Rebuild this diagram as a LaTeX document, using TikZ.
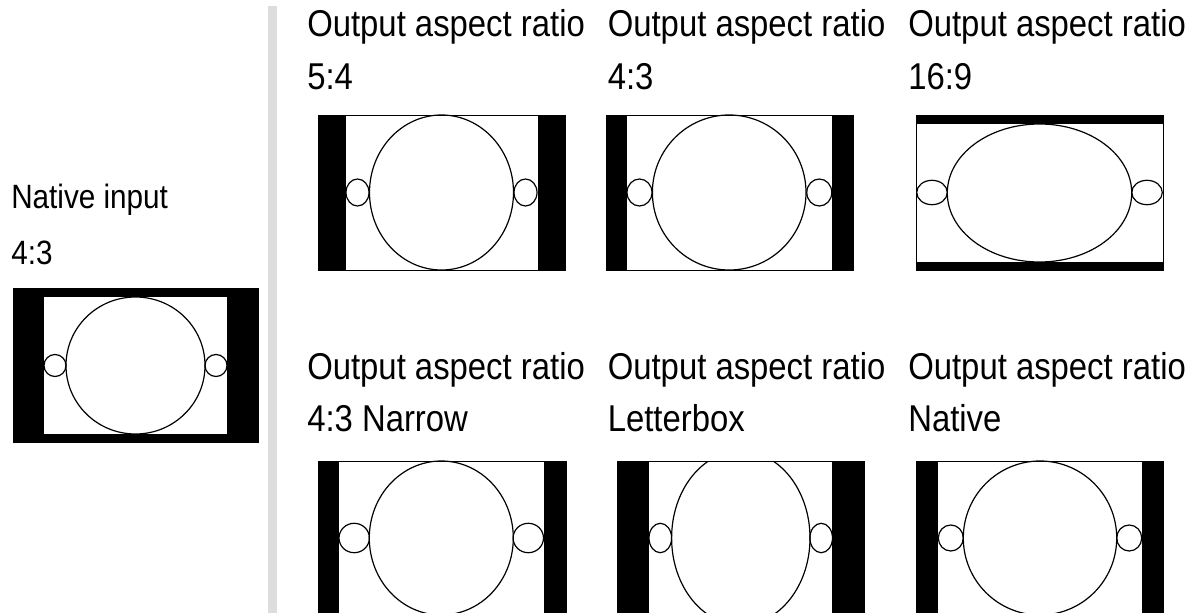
\documentclass[tikz,border=0pt]{standalone}
\usepackage{fontspec}
\setmainfont{Liberation Sans}
\newfontfamily\lblfont[FakeStretch=0.88]{Liberation Sans}
\begin{document}
\begin{tikzpicture}[x=0.75pt,y=-0.75pt,
  lbl/.style={anchor=base west, inner sep=0pt, font=\lblfont\fontsize{28}{33}\selectfont},
  lblsmall/.style={anchor=base west, inner sep=0pt, font=\lblfont\fontsize{25.3}{30}\selectfont},
  frame/.style={draw=black, line width=0.6pt, fill=white},
  bar/.style={fill=black},
  outline/.style={draw=black, line width=0.9pt}]
\useasboundingbox (0,0) rectangle (1195,613);
\begin{scope}
\clip (0,0) rectangle (1195,613);
% separator
\fill[fill={rgb,255:red,220;green,221;blue,220}] (268,6) rectangle (277,613);

% labels
\node[lblsmall] (natA) at (11,209) {Native input};
\node[lblsmall] (natB) at (11,264) {4:3};
\node[lbl] (t1a) at (307,37) {Output aspect ratio};
\node[lbl] (t1b) at (307,90) {5:4};
\node[lbl] (t2a) at (607.5,37) {Output aspect ratio};
\node[lbl] (t2b) at (607.5,90) {4:3};
\node[lbl] (t3a) at (908,37) {Output aspect ratio};
\node[lbl] (t3b) at (908,90) {16:9};
\node[lbl] (t4a) at (307,379) {Output aspect ratio};
\node[lbl] (t4b) at (307,431) {4:3 Narrow};
\node[lbl] (t5a) at (607.5,379) {Output aspect ratio};
\node[lbl] (t5b) at (607.5,431) {Letterbox};
\node[lbl] (t6a) at (908,379) {Output aspect ratio};
\node[lbl] (t6b) at (908,431) {Native};

% native input
\fill[black] (13,288) rectangle (259,443);
\fill[white] (44,297) rectangle (227,434);
\draw[outline] (135.5,365.5) ellipse [x radius=69.5, y radius=68.5];
\draw[outline] (55,365.5) circle [radius=11];
\draw[outline] (216,365.5) circle [radius=11];

% 5:4
\draw[frame] (318,115) rectangle (565,270);
\fill[bar] (318,115) rectangle (346,270);
\fill[bar] (538,115) rectangle (565,270);
\draw[outline] (441.5,192.5) ellipse [x radius=72, y radius=77.5];
\draw[outline] (357.5,192.5) ellipse [x radius=11.5, y radius=13.5];
\draw[outline] (525.5,192.5) ellipse [x radius=11.5, y radius=13.5];

% 4:3
\draw[frame] (606,115) rectangle (853,270);
\fill[bar] (606,115) rectangle (627,270);
\fill[bar] (832,115) rectangle (853,270);
\draw[outline] (729.2,192.5) ellipse [x radius=76.8, y radius=77.5];
\draw[outline] (639.5,192.5) ellipse [x radius=12.5, y radius=13.5];
\draw[outline] (819.3,192.5) ellipse [x radius=12.5, y radius=13.5];

% 16:9
\draw[frame] (916,115) rectangle (1163,270);
\fill[bar] (916,115) rectangle (1163,124);
\fill[bar] (916,262) rectangle (1163,270);
\draw[outline] (1039.5,193) ellipse [x radius=92.2, y radius=69];
\draw[outline] (932,192.5) ellipse [x radius=15.3, y radius=12.2];
\draw[outline] (1147,192.5) ellipse [x radius=15.3, y radius=12.2];

% 4:3 Narrow
\draw[frame] (318,461) rectangle (566,640);
\fill[bar] (318,461) rectangle (339,640);
\fill[bar] (544,461) rectangle (566,640);
\draw[outline] (441.3,538) ellipse [x radius=72, y radius=77];
\draw[outline] (354.2,538) ellipse [x radius=15.2, y radius=14.7];
\draw[outline] (528.3,538) ellipse [x radius=15.2, y radius=14.7];

% Letterbox
\draw[frame] (617,461) rectangle (864,640);
\fill[bar] (617,461) rectangle (649,640);
\fill[bar] (832,461) rectangle (864,640);
\begin{scope}
\clip (649,461) rectangle (832,640);
\draw[outline] (740.8,538) ellipse [x radius=69.2, y radius=87];
\end{scope}
\draw[outline] (660.3,538) ellipse [x radius=11.3, y radius=14.7];
\draw[outline] (821.2,538) ellipse [x radius=11.3, y radius=14.7];

% Native
\draw[frame] (916,461) rectangle (1163,640);
\fill[bar] (916,461) rectangle (938,640);
\fill[bar] (1142,461) rectangle (1163,640);
\draw[outline] (1040,538) ellipse [x radius=76.7, y radius=77];
\draw[outline] (950.8,538) ellipse [x radius=12.5, y radius=13];
\draw[outline] (1129.2,538) ellipse [x radius=12.5, y radius=13];
\end{scope}
\end{tikzpicture}
\end{document}
